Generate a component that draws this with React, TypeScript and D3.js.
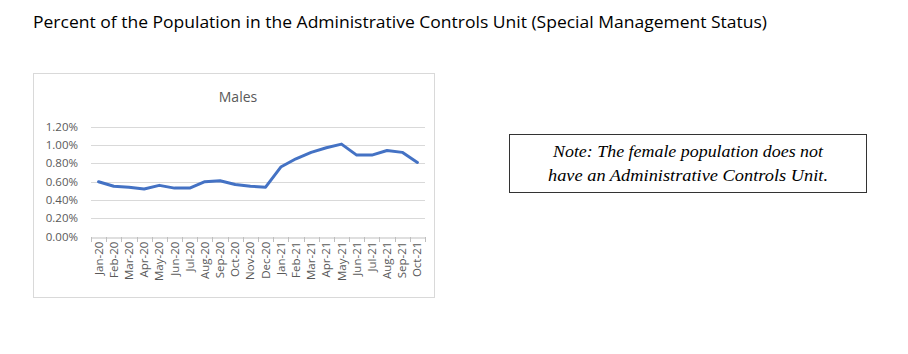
import React, { useRef, useEffect } from "react";
import * as d3 from "d3";

const months = [
  "Jan-20", "Feb-20", "Mar-20", "Apr-20", "May-20", "Jun-20", "Jul-20", "Aug-20",
  "Sep-20", "Oct-20", "Nov-20", "Dec-20", "Jan-21", "Feb-21", "Mar-21", "Apr-21",
  "May-21", "Jun-21", "Jul-21", "Aug-21", "Sep-21", "Oct-21",
];
const males = [
  0.0060, 0.0055, 0.0054, 0.0052, 0.0056, 0.0053, 0.0053, 0.0060,
  0.0061, 0.0057, 0.0055, 0.0054, 0.0076, 0.0085, 0.0092, 0.0097,
  0.0101, 0.0089, 0.0089, 0.0094, 0.0092, 0.0081,
];
const yTicks = [0, 0.002, 0.004, 0.006, 0.008, 0.01, 0.012];
const noteLines = ["Note: The female population does not", "have an Administrative Controls Unit."];

const App = () => {
  const chartRef = useRef<SVGSVGElement>(null);

  useEffect(() => {
    const svg = d3.select(chartRef.current);
    svg.selectAll("*").remove();

    // page title
    svg
      .append("text")
      .attr("x", 33)
      .attr("y", 28)
      .attr("textLength", 734)
      .attr("lengthAdjust", "spacingAndGlyphs")
      .style("font-family", "'Open Sans', sans-serif")
      .style("font-size", "17px")
      .style("fill", "#000")
      .text("Percent of the Population in the Administrative Controls Unit (Special Management Status)");

    // chart frame
    svg
      .append("rect")
      .attr("x", 33.5)
      .attr("y", 73.5)
      .attr("width", 401)
      .attr("height", 224)
      .attr("fill", "#fff")
      .attr("stroke", "#d9d9d9");

    svg
      .append("text")
      .attr("x", 238)
      .attr("y", 102)
      .attr("text-anchor", "middle")
      .style("font-family", "'Open Sans', sans-serif")
      .style("font-size", "14px")
      .style("fill", "#595959")
      .text("Males");

    const x = d3.scaleBand().domain(months).range([91, 425]);
    const y = d3.scaleLinear().domain([0, 0.012]).range([236.7, 126.7]);
    const fmt = d3.format(".2%");

    const g = svg.append("g");

    g.selectAll(".grid")
      .data(yTicks.slice(1))
      .enter()
      .append("line")
      .attr("x1", 91)
      .attr("x2", 425)
      .attr("y1", (d) => Math.round(y(d)) + 0.5)
      .attr("y2", (d) => Math.round(y(d)) + 0.5)
      .attr("stroke", "#d9d9d9")
      .attr("stroke-width", 1);

    g.selectAll(".ylab")
      .data(yTicks)
      .enter()
      .append("text")
      .attr("x", 78)
      .attr("y", (d) => y(d) + 4)
      .attr("text-anchor", "end")
      .style("font-family", "'Open Sans', sans-serif")
      .style("font-size", "11.5px")
      .style("fill", "#595959")
      .text((d) => fmt(d));

    // category axis
    const axis = g
      .append("g")
      .attr("transform", `translate(0,${Math.round(y(0)) + 0.5})`)
      .call(
        d3
          .axisBottom(x)
          .tickSize(0)
          .tickFormat(() => "")
      );
    axis.select(".domain").attr("stroke", "#bfbfbf");

    const edges = months.map((m) => x(m) as number).concat([425]);
    g.selectAll(".xtick")
      .data(edges)
      .enter()
      .append("line")
      .attr("x1", (d) => Math.round(d) + 0.5)
      .attr("x2", (d) => Math.round(d) + 0.5)
      .attr("y1", Math.round(y(0)))
      .attr("y2", Math.round(y(0)) + 5)
      .attr("stroke", "#bfbfbf");

    g.selectAll(".xlab")
      .data(months)
      .enter()
      .append("text")
      .attr(
        "transform",
        (d) => `translate(${(x(d) as number) + x.bandwidth() / 2 + 4},${y(0) + 5}) rotate(-90)`
      )
      .attr("text-anchor", "end")
      .style("font-family", "'Open Sans', sans-serif")
      .style("font-size", "11.5px")
      .style("fill", "#595959")
      .text((d) => d);

    const line = d3
      .line<number>()
      .x((d, i) => (x(months[i]) as number) + x.bandwidth() / 2)
      .y((d) => y(d));

    g.append("path")
      .datum(males)
      .attr("d", line)
      .attr("fill", "none")
      .attr("stroke", "#4472c4")
      .attr("stroke-width", 3)
      .attr("stroke-linejoin", "round")
      .attr("stroke-linecap", "round");

    // note box
    svg
      .append("rect")
      .attr("x", 509.5)
      .attr("y", 134.5)
      .attr("width", 357)
      .attr("height", 58)
      .attr("fill", "#fff")
      .attr("stroke", "#333")
      .attr("stroke-width", 1);

    svg
      .selectAll(".note")
      .data(noteLines)
      .enter()
      .append("text")
      .attr("x", 688)
      .attr("y", (d, i) => 157 + i * 24)
      .attr("text-anchor", "middle")
      .attr("textLength", (d, i) => (i === 0 ? 270 : 280))
      .attr("lengthAdjust", "spacingAndGlyphs")
      .style("font-family", "'Liberation Serif', serif")
      .style("font-style", "italic")
      .style("font-size", "17px")
      .style("fill", "#000")
      .text((d) => d);
  }, []);

  return (
    <svg
      ref={chartRef}
      width={908}
      height={354}
      style={{ position: "absolute", left: 0, top: 0, background: "#fff" }}
    ></svg>
  );
};

export default App;
